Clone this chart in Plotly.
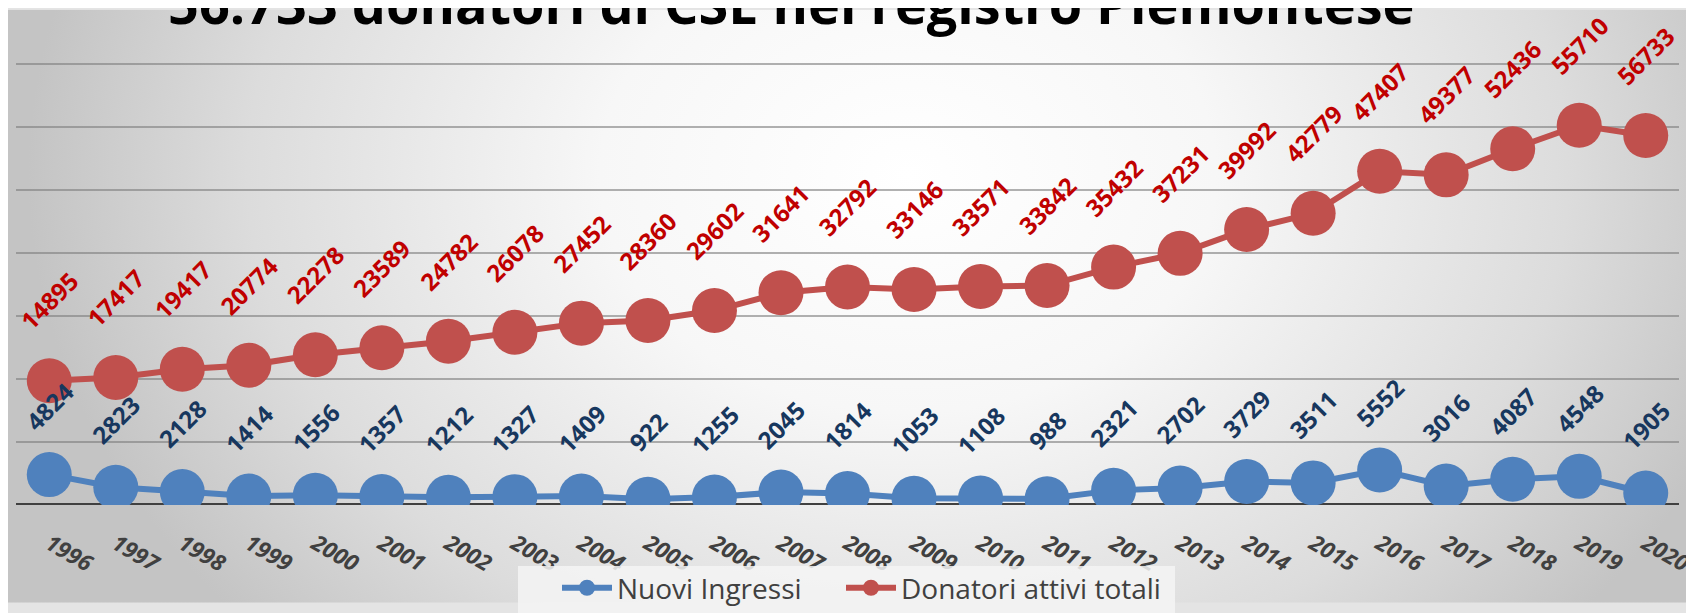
import base64
import plotly.graph_objects as go

# Data
anni = [str(a) for a in range(1996, 2021)]
nuovi_ingressi = [4824, 2823, 2128, 1414, 1556, 1357, 1212, 1327, 1409, 922, 1255, 2045, 1814,
                  1053, 1108, 988, 2321, 2702, 3729, 3511, 5552, 3016, 4087, 4548, 1905]
donatori_attivi = [14895, 17417, 19417, 20774, 22278, 23589, 24782, 26078, 27452, 28360, 29602,
                   31641, 32792, 33146, 33571, 33842, 35432, 37231, 39992, 42779, 47407, 49377,
                   52436, 55710, 56733]

W, H = 1694, 613
L, R, T, B = 8, 23, 54, 101
pw, ph = W - L - R, H - T - B
base = H - B  # pixel del valore 0


def px_y(p):
    # pixel dall'alto -> coordinate paper
    return (base - p) / ph


def px_x(p):
    return (p - L) / pw


BLU = "#4F81BD"
ROSSO = "#C0504D"
ANGOLO = -45

# sfondo sfumato (svg inline)
svg = f"""<svg xmlns='http://www.w3.org/2000/svg' width='{W}' height='{H}'>
<defs><radialGradient id='g' gradientUnits='userSpaceOnUse' cx='900' cy='170' r='880'
 gradientTransform='translate(900 170) scale(1 0.8) translate(-900 -170)'>
<stop offset='0' stop-color='#ffffff'/><stop offset='0.35' stop-color='#f7f7f7'/>
<stop offset='0.75' stop-color='#dcdcdc'/><stop offset='1' stop-color='#c4c4c4'/>
</radialGradient></defs>
<rect width='{W}' height='{H}' fill='url(#g)'/></svg>"""
bg_src = "data:image/svg+xml;base64," + base64.b64encode(svg.encode()).decode()

fig = go.Figure()
fig.add_trace(go.Scatter(
    x=anni, y=nuovi_ingressi, name="Nuovi Ingressi", stackgroup="s", fill="none",
    mode="lines+markers", line=dict(color=BLU, width=6),
    marker=dict(size=45, color=BLU), hoverinfo="skip", legend="legend"))
fig.add_trace(go.Scatter(
    x=anni, y=donatori_attivi, name="Donatori attivi totali", stackgroup="s", fill="none",
    mode="lines+markers", line=dict(color=ROSSO, width=6),
    marker=dict(size=45, color=ROSSO), hoverinfo="skip", legend="legend2"))

# etichette dati ruotate (x = indice di categoria)
for i, (n, d) in enumerate(zip(nuovi_ingressi, donatori_attivi)):
    fig.add_annotation(x=i, y=n, text=str(n), showarrow=False, textangle=ANGOLO,
                       xanchor="center", yanchor="middle", yshift=68,
                       font=dict(family="Open Sans", size=24, color="#17375E", weight="bold"))
    fig.add_annotation(x=i, y=n + d, text=str(d), showarrow=False, textangle=ANGOLO,
                       xanchor="center", yanchor="middle", yshift=80,
                       font=dict(family="Open Sans", size=24, color="#C00000", weight="bold"))

# titolo (tagliato in alto come nell'originale)
fig.add_annotation(xref="paper", yref="paper", x=px_x(783), y=px_y(-7), xanchor="center",
                   yanchor="middle", showarrow=False,
                   text="56.733 donatori di CSE nel registro Piemontese",
                   font=dict(family="Open Sans", size=54, color="#000000", weight="bold"))

# linea dell'asse orizzontale
fig.add_shape(type="line", xref="paper", x0=0, x1=1, yref="y", y0=0, y1=0,
              line=dict(color="#404040", width=4), layer="below")

# riquadro della legenda
fig.add_shape(type="rect", xref="paper", yref="paper", x0=px_x(510), x1=px_x(1167),
              y0=px_y(630), y1=px_y(575), fillcolor="rgba(244,244,244,0.85)",
              line=dict(width=0), layer="above")

fig.add_layout_image(dict(source=bg_src, xref="paper", yref="paper",
                          x=-L / pw, y=1 + T / ph, sizex=W / pw, sizey=H / ph,
                          xanchor="left", yanchor="top", sizing="stretch", layer="below"))

legfont = dict(family="Open Sans", size=28, color="#404040")
fig.update_layout(
    width=W, height=H,
    margin=dict(l=L, r=R, t=T, b=B),
    paper_bgcolor="#e4e4e4", plot_bgcolor="rgba(0,0,0,0)",
    xaxis=dict(type="category", range=[-0.5, 24.5], showgrid=False, zeroline=False,
               showline=False, tickangle=30, ticks="outside", ticklen=16,
               tickcolor="rgba(0,0,0,0)", automargin=False,
               tickfont=dict(family="Open Sans", size=22.5, color="#404040",
                             weight="bold", style="italic")),
    yaxis=dict(range=[0, 70300], dtick=10000, showticklabels=False, zeroline=False,
               showgrid=True, gridcolor="rgba(125,125,125,0.6)", gridwidth=2,
               automargin=False),
    legend=dict(orientation="h", x=px_x(549), xanchor="left", y=px_y(572),
                yanchor="top", bgcolor="rgba(0,0,0,0)", itemwidth=50, font=legfont),
    legend2=dict(orientation="h", x=px_x(833), xanchor="left", y=px_y(572),
                 yanchor="top", bgcolor="rgba(0,0,0,0)", itemwidth=50, font=legfont),
    showlegend=True,
)

fig.write_html("out.html")
